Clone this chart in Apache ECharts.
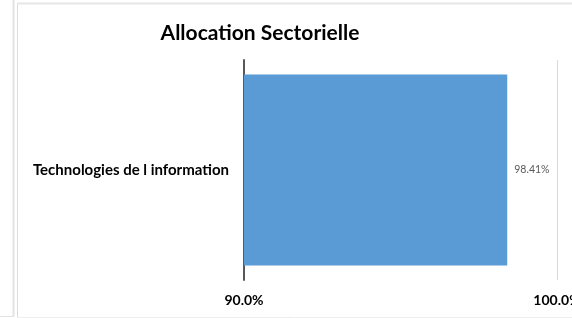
<!DOCTYPE html>
<html><head><meta charset="utf-8">
<script src="https://cdn.jsdelivr.net/npm/echarts@6/dist/echarts.min.js"></script>
<style>html,body{margin:0;padding:0;background:#fff}#c{width:572px;height:318px}</style>
</head><body><div id="c"></div>
<script>
const categories = ["Technologies de l information"];
const values = [98.41];
const xTicks = [90, 100];

const chart = echarts.init(document.getElementById('c'));
const font = "Lato, 'Open Sans', sans-serif";
chart.setOption({
  animation: false,
  backgroundColor: '#fff',
  graphic: [
    {type:'line', shape:{x1:13.5,y1:0,x2:13.5,y2:316}, style:{stroke:'#e3e3e3', lineWidth:2}},
    {type:'line', shape:{x1:0,y1:316.5,x2:14,y2:316.5}, style:{stroke:'#e3e3e3', lineWidth:1}},
    {type:'line', shape:{x1:17.5,y1:3,x2:17.5,y2:318}, style:{stroke:'#dcdcdc', lineWidth:1}},
    {type:'line', shape:{x1:17,y1:3.5,x2:572,y2:3.5}, style:{stroke:'#e6e6e6', lineWidth:2}},
    {type:'line', shape:{x1:17,y1:317.5,x2:572,y2:317.5}, style:{stroke:'#eeeeee', lineWidth:1}}
  ],
  title: {
    text: 'Allocation Sectorielle',
    left: 255, top: 18, textAlign: 'center',
    textStyle: {fontFamily: font, fontWeight: 'bold', fontSize: 21, color: '#000'}
  },
  grid: {left: 244, right: 15, top: 60, bottom: 38, containLabel: false, outerBoundsMode: 'none'},
  xAxis: {
    type: 'value', min: xTicks[0], max: xTicks[1], interval: 10,
    axisLine: {show: false}, axisTick: {show: false},
    splitLine: {show: true, lineStyle: {color: '#d9d9d9', width: 1}},
    axisLabel: {
      margin: 13, color: '#000', fontFamily: font, fontWeight: 'bold', fontSize: 14,
      formatter: v => v.toFixed(1) + '%'
    }
  },
  yAxis: {
    type: 'category', data: categories,
    axisLine: {show: true, lineStyle: {color: '#595959', width: 2}},
    axisTick: {show: false},
    axisLabel: {margin: 15, color: '#000', fontFamily: font, fontWeight: 'bold', fontSize: 15}
  },
  series: [{
    type: 'bar', data: values, barWidth: 191,
    itemStyle: {color: '#5b9bd5'},
    label: {show: true, position: 'right', distance: 7, color: '#595959', fontSize: 10.5, fontFamily: font,
      formatter: p => p.value.toFixed(2) + '%'}
  }]
});
</script></body></html>
